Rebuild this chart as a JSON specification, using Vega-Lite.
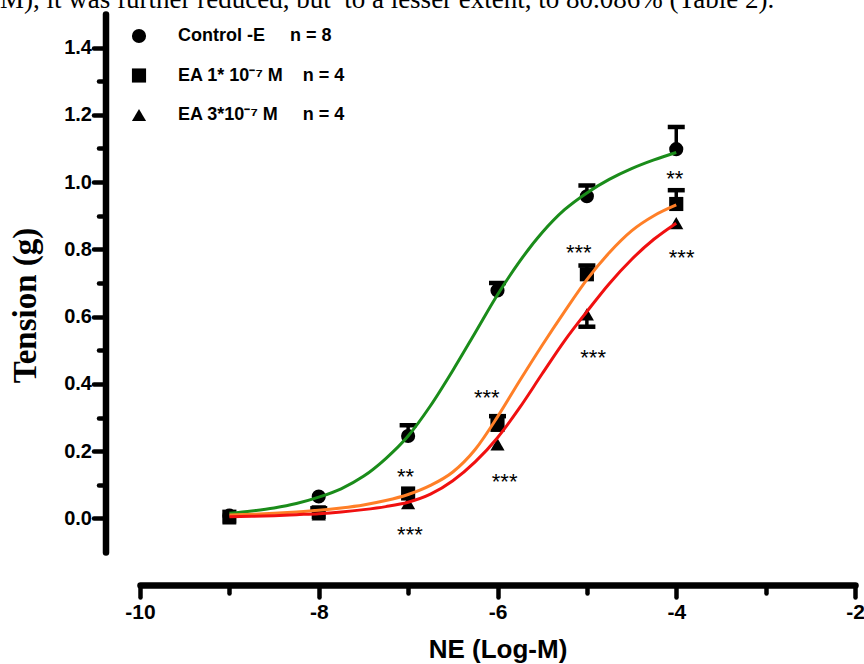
{
  "$schema": "https://vega.github.io/schema/vega-lite/v6.json",
  "width": 715,
  "height": 538,
  "autosize": {"type": "none"},
  "padding": {"left": 140, "top": 14, "right": 9, "bottom": 112},
  "background": "white",
  "title": {
    "text": "M), it was further reduced, but\u00a0 to a lesser extent, to 80.086% (Table 2).",
    "anchor": "start",
    "frame": "group",
    "orient": "top",
    "font": "Liberation Serif",
    "fontSize": 27,
    "fontWeight": "normal",
    "color": "black",
    "baseline": "alphabetic",
    "dx": -140,
    "dy": 21,
    "offset": 0
  },
  "config": {
    "view": {"stroke": null},
    "font": "Liberation Sans"
  },
  "datasets": {
    "points": [
      {"series": "Control", "x": -9, "y": 0.008, "yerr": null},
      {"series": "Control", "x": -8, "y": 0.065, "yerr": null},
      {"series": "Control", "x": -7, "y": 0.245, "yerr": 0.277},
      {"series": "Control", "x": -6, "y": 0.678, "yerr": 0.70},
      {"series": "Control", "x": -5, "y": 0.958, "yerr": 0.99},
      {"series": "Control", "x": -4, "y": 1.098, "yerr": 1.164},
      {"series": "EA1", "x": -9, "y": 0.005, "yerr": null},
      {"series": "EA1", "x": -8, "y": 0.018, "yerr": 0.03},
      {"series": "EA1", "x": -7, "y": 0.074, "yerr": null},
      {"series": "EA1", "x": -6, "y": 0.278, "yerr": 0.304},
      {"series": "EA1", "x": -5, "y": 0.726, "yerr": 0.752},
      {"series": "EA1", "x": -4, "y": 0.935, "yerr": 0.976},
      {"series": "EA3", "x": -9, "y": 0.0, "yerr": null},
      {"series": "EA3", "x": -8, "y": 0.012, "yerr": null},
      {"series": "EA3", "x": -7, "y": 0.045, "yerr": null},
      {"series": "EA3", "x": -6, "y": 0.22, "yerr": null},
      {"series": "EA3", "x": -5, "y": 0.607, "yerr": 0.57},
      {"series": "EA3", "x": -4, "y": 0.878, "yerr": null}
    ],
    "curves": [
      {"series": "Control", "x": -9.0, "y": 0.015},
      {"series": "Control", "x": -8.75, "y": 0.022},
      {"series": "Control", "x": -8.5, "y": 0.031},
      {"series": "Control", "x": -8.25, "y": 0.044},
      {"series": "Control", "x": -8.0, "y": 0.063},
      {"series": "Control", "x": -7.75, "y": 0.088},
      {"series": "Control", "x": -7.5, "y": 0.125},
      {"series": "Control", "x": -7.25, "y": 0.178},
      {"series": "Control", "x": -7.0, "y": 0.245},
      {"series": "Control", "x": -6.75, "y": 0.335},
      {"series": "Control", "x": -6.5, "y": 0.44},
      {"series": "Control", "x": -6.25, "y": 0.552},
      {"series": "Control", "x": -6.0, "y": 0.665},
      {"series": "Control", "x": -5.75, "y": 0.765},
      {"series": "Control", "x": -5.5, "y": 0.85},
      {"series": "Control", "x": -5.25, "y": 0.918},
      {"series": "Control", "x": -5.0, "y": 0.968},
      {"series": "Control", "x": -4.75, "y": 1.008},
      {"series": "Control", "x": -4.5, "y": 1.04},
      {"series": "Control", "x": -4.25, "y": 1.066},
      {"series": "Control", "x": -4.0, "y": 1.088},
      {"series": "EA1", "x": -9.0, "y": 0.010},
      {"series": "EA1", "x": -8.75, "y": 0.012},
      {"series": "EA1", "x": -8.5, "y": 0.015},
      {"series": "EA1", "x": -8.25, "y": 0.019},
      {"series": "EA1", "x": -8.0, "y": 0.024},
      {"series": "EA1", "x": -7.75, "y": 0.031},
      {"series": "EA1", "x": -7.5, "y": 0.040},
      {"series": "EA1", "x": -7.25, "y": 0.053},
      {"series": "EA1", "x": -7.0, "y": 0.071},
      {"series": "EA1", "x": -6.75, "y": 0.098},
      {"series": "EA1", "x": -6.5, "y": 0.138},
      {"series": "EA1", "x": -6.25, "y": 0.205},
      {"series": "EA1", "x": -6.0, "y": 0.302},
      {"series": "EA1", "x": -5.75, "y": 0.41},
      {"series": "EA1", "x": -5.5, "y": 0.515},
      {"series": "EA1", "x": -5.25, "y": 0.615},
      {"series": "EA1", "x": -5.0, "y": 0.71},
      {"series": "EA1", "x": -4.75, "y": 0.79},
      {"series": "EA1", "x": -4.5, "y": 0.855},
      {"series": "EA1", "x": -4.25, "y": 0.90},
      {"series": "EA1", "x": -4.0, "y": 0.932},
      {"series": "EA3", "x": -9.0, "y": 0.005},
      {"series": "EA3", "x": -8.75, "y": 0.006},
      {"series": "EA3", "x": -8.5, "y": 0.008},
      {"series": "EA3", "x": -8.25, "y": 0.011},
      {"series": "EA3", "x": -8.0, "y": 0.014},
      {"series": "EA3", "x": -7.75, "y": 0.019},
      {"series": "EA3", "x": -7.5, "y": 0.026},
      {"series": "EA3", "x": -7.25, "y": 0.035},
      {"series": "EA3", "x": -7.0, "y": 0.048},
      {"series": "EA3", "x": -6.75, "y": 0.072},
      {"series": "EA3", "x": -6.5, "y": 0.112},
      {"series": "EA3", "x": -6.25, "y": 0.168},
      {"series": "EA3", "x": -6.0, "y": 0.24},
      {"series": "EA3", "x": -5.75, "y": 0.33},
      {"series": "EA3", "x": -5.5, "y": 0.43},
      {"series": "EA3", "x": -5.25, "y": 0.528},
      {"series": "EA3", "x": -5.0, "y": 0.615},
      {"series": "EA3", "x": -4.75, "y": 0.698},
      {"series": "EA3", "x": -4.5, "y": 0.77},
      {"series": "EA3", "x": -4.25, "y": 0.83},
      {"series": "EA3", "x": -4.0, "y": 0.878}
    ],
    "stars": [
      {"x": -4.017, "y": 1.026, "label": "**"},
      {"x": -5.09, "y": 0.806, "label": "***"},
      {"x": -3.94, "y": 0.791, "label": "***"},
      {"x": -4.93, "y": 0.496, "label": "***"},
      {"x": -6.12, "y": 0.375, "label": "***"},
      {"x": -7.03, "y": 0.14, "label": "**"},
      {"x": -6.98, "y": -0.033, "label": "***"},
      {"x": -5.92, "y": 0.125, "label": "***"}
    ]
  },
  "encoding": {
    "x": {
      "field": "x",
      "type": "quantitative",
      "scale": {"domain": [-10, -2], "nice": false, "zero": false},
      "axis": {
        "title": "NE (Log-M)",
        "titleFont": "Liberation Sans",
        "titleFontSize": 26,
        "titleFontWeight": "bold",
        "titleColor": "black",
        "titlePadding": 14,
        "values": [-10, -9, -8, -7, -6, -5, -4, -3, -2],
        "labelExpr": "datum.value % 2 == 0 ? '' + datum.value : ''",
        "labelFont": "Liberation Sans",
        "labelFontSize": 21,
        "labelFontWeight": "bold",
        "labelColor": "black",
        "labelPadding": 4,
        "labelFlush": false,
        "labelOverlap": false,
        "offset": 33,
        "domainColor": "black",
        "domainWidth": 6.5,
        "domainCap": "round",
        "tickColor": "black",
        "tickWidth": 4.5,
        "tickCap": "round",
        "tickSize": {"condition": {"test": "datum.value % 2 == 0", "value": 12}, "value": 8},
        "grid": false
      }
    },
    "y": {
      "field": "y",
      "type": "quantitative",
      "scale": {"domain": [-0.1, 1.5], "nice": false, "zero": false},
      "axis": {
        "title": "Tension (g)",
        "titleFont": "Liberation Serif",
        "titleFontSize": 33,
        "titleFontWeight": "bold",
        "titleColor": "black",
        "titleX": -80,
        "titleY": 291,
        "titleBaseline": "middle",
        "titleAngle": -90,
        "values": [0, 0.1, 0.2, 0.3, 0.4, 0.5, 0.6, 0.7, 0.8, 0.9, 1.0, 1.1, 1.2, 1.3, 1.4],
        "labelExpr": "round(datum.value * 10) % 2 == 0 ? format(datum.value, '.1f') : ''",
        "labelFont": "Liberation Sans",
        "labelFontSize": 20,
        "labelFontWeight": "bold",
        "labelColor": "black",
        "labelPadding": 2,
        "labelFlush": false,
        "labelOverlap": false,
        "offset": 34.5,
        "domainColor": "black",
        "domainWidth": 6.5,
        "domainCap": "round",
        "tickColor": "black",
        "tickWidth": 4.5,
        "tickCap": "round",
        "tickSize": {"condition": {"test": "round(datum.value * 10) % 2 == 0", "value": 12}, "value": 7},
        "grid": false
      }
    }
  },
  "layer": [
    {
      "data": {"name": "points"},
      "transform": [{"filter": "datum.yerr != null"}],
      "mark": {"type": "rule", "color": "black", "strokeWidth": 3.5, "opacity": 1},
      "encoding": {"y2": {"field": "yerr"}}
    },
    {
      "data": {"name": "points"},
      "transform": [{"filter": "datum.yerr != null"}],
      "mark": {"type": "tick", "orient": "horizontal", "color": "black", "opacity": 1, "size": 17, "thickness": 4.5},
      "encoding": {"y": {"field": "yerr", "type": "quantitative"}}
    },
    {
      "data": {"name": "points"},
      "mark": {"type": "point", "filled": true, "color": "black", "opacity": 1, "size": 200},
      "encoding": {
        "shape": {
          "field": "series",
          "type": "nominal",
          "scale": {"domain": ["Control", "EA1", "EA3"], "range": ["circle", "square", "triangle-up"]},
          "legend": {
            "title": null,
            "orient": "none",
            "legendX": -10,
            "legendY": 13,
            "padding": 0,
            "symbolSize": 200,
            "symbolFillColor": "black",
            "symbolStrokeWidth": 0,
            "symbolOpacity": 1,
            "labelFont": "Liberation Sans",
            "labelFontSize": 18,
            "labelFontWeight": "bold",
            "labelColor": "black",
            "labelOffset": 30,
            "rowPadding": 21.5,
            "labelLimit": 400,
            "labelExpr": "datum.label == 'Control' ? 'Control -E\u00a0\u00a0\u00a0\u00a0\u00a0n = 8' : datum.label == 'EA1' ? 'EA 1* 10\u207b\u2077 M\u00a0\u00a0\u00a0\u00a0n = 4' : 'EA 3*10\u207b\u2077 M\u00a0\u00a0\u00a0\u00a0\u00a0n = 4'"
          }
        }
      }
    },
    {
      "data": {"name": "curves"},
      "mark": {"type": "line", "strokeWidth": 3, "interpolate": "monotone"},
      "encoding": {
        "color": {
          "field": "series",
          "type": "nominal",
          "scale": {"domain": ["Control", "EA1", "EA3"], "range": ["#1a8c1a", "#ff7f27", "#f01010"]},
          "legend": null
        }
      }
    },
    {
      "data": {"name": "stars"},
      "mark": {"type": "text", "font": "Liberation Sans", "fontSize": 22, "color": "black", "align": "center", "baseline": "middle", "dy": 6},
      "encoding": {"text": {"field": "label"}}
    }
  ]
}
